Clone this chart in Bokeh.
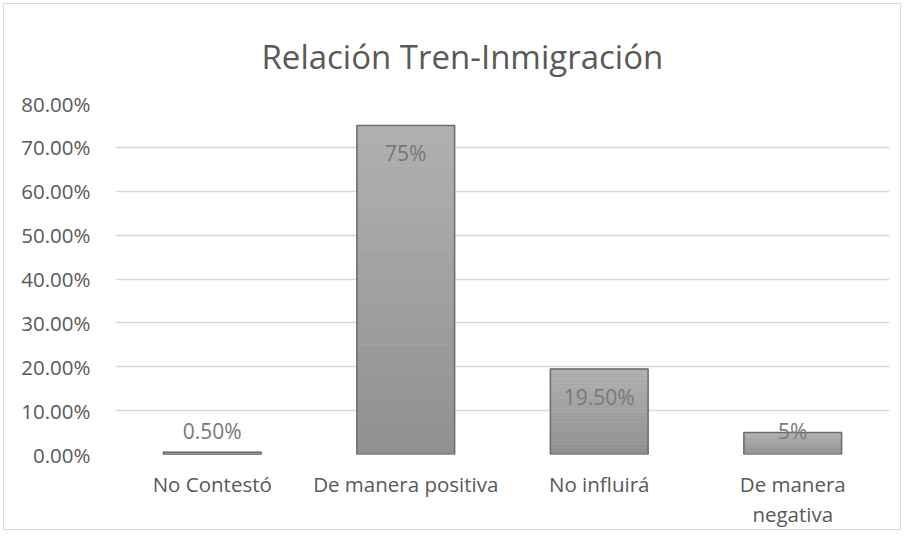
from bokeh.plotting import figure
from bokeh.models import ColumnDataSource, NumeralTickFormatter, FixedTicker, Range1d
from bokeh.core.properties import value
from bokeh.embed import file_html
from bokeh.resources import INLINE

title_text = "Relación Tren-Inmigración"
categories = ["No Contestó", "De manera positiva", "No influirá", "De manera\nnegativa"]
values = [0.005, 0.75, 0.195, 0.05]
label_texts = ["0.50%", "75%", "19.50%", "5%"]
y_ticks = [0.0, 0.1, 0.2, 0.3, 0.4, 0.5, 0.6, 0.7, 0.8]

FONT = "Open Sans"
TXT = "#595959"
GRID = "#d9d9d9"

p = figure(x_range=categories, y_range=Range1d(0, 0.8), width=898, height=527,
           output_backend="svg", toolbar_location=None,
           min_border_left=111, min_border_right=13, min_border_top=99, min_border_bottom=75)
p.margin = (3, 0, 0, 3)
p.styles = {"border": "1px solid #d9d9d9"}
p.outline_line_color = None
p.background_fill_color = "white"
p.border_fill_color = "white"

# title
p.title.text = title_text
p.title.align = "left"
p.title.offset = 146
p.title.standoff = 50
p.title.text_font = FONT
p.title.text_font_size = "33px"
p.title.text_font_style = "normal"
p.title.text_color = TXT

# gradient bars built from slices of each data value
N = 24
def lerp(c0, c1, t):
    return "#%02x%02x%02x" % tuple(int(round(a + (b - a) * t)) for a, b in zip(c0, c1))
bottom_c = (0x90, 0x90, 0x90)
top_c = (0xb0, 0xb0, 0xb0)
xs, bots, tops, cols = [], [], [], []
for cat, v in zip(categories, values):
    for k in range(N):
        xs.append(cat)
        bots.append(v * k / N)
        tops.append(v * (k + 1) / N)
        cols.append(lerp(bottom_c, top_c, (k + 0.5) / N))
src = ColumnDataSource(dict(x=xs, bottom=bots, top=tops, color=cols))
p.vbar(x="x", bottom="bottom", top="top", width=0.505, source=src,
       fill_color="color", line_color="color", line_width=0.6)
p.vbar(x=categories, top=values, width=0.505, fill_color=None,
       line_color="#6b6b6b", line_width=1.5)

# data labels: inside end, clamped for short bars
inset = 0.0635
floor = 0.0544
label_y = [max(v - inset, floor) for v in values]
p.text(x=categories, y=label_y, text=label_texts, text_align="center",
       text_baseline="middle", text_font=value(FONT), text_font_size="21px",
       text_color="#787878")

# axes
p.yaxis.ticker = FixedTicker(ticks=y_ticks)
p.yaxis.formatter = NumeralTickFormatter(format="0.00%")
for ax in (p.xaxis, p.yaxis):
    ax.axis_line_color = None
    ax.major_tick_line_color = None
    ax.minor_tick_line_color = None
    ax.major_label_text_font = FONT
    ax.major_label_text_font_size = "20.5px"
    ax.major_label_text_color = TXT
p.yaxis.major_label_standoff = 19
p.xaxis.major_label_standoff = 9
p.xaxis.major_label_text_line_height = 1.1

p.xgrid.grid_line_color = None
p.ygrid.grid_line_color = GRID
p.ygrid.grid_line_width = 1.3
p.ygrid.ticker = FixedTicker(ticks=y_ticks)
p.x_range.range_padding = 0.0

open("out.html", "w").write(file_html(p, INLINE))
